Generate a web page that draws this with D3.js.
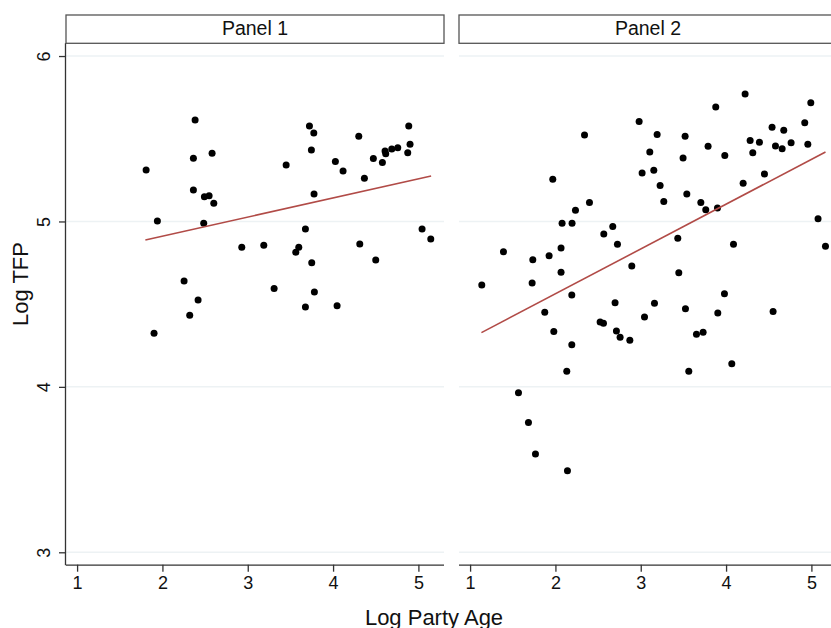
<!DOCTYPE html>
<html>
<head>
<meta charset="utf-8">
<script src="https://cdn.jsdelivr.net/npm/d3@7"></script>
<style>
  body { margin: 0; background: #fff; }
  svg { font-family: "Liberation Sans", Arial, sans-serif; }
</style>
</head>
<body>
<svg id="chart" width="831" height="628"></svg>
<script>
// Data ====================================================================
var panelNames = ["Panel 1", "Panel 2"];
var xTicks = [1, 2, 3, 4, 5];
var yTicks = [3, 4, 5, 6];

// Panel 1 : log party age, log TFP
var age1 = [1.809, 1.941, 1.902, 2.383, 2.363, 2.363, 2.582, 2.492, 2.547, 2.602,
            2.484, 2.254, 2.418, 2.320, 2.930, 3.188, 3.309, 3.450, 3.723, 3.774,
            3.746, 3.777, 3.676, 3.598, 3.563, 3.750, 3.781, 3.676, 4.047, 4.027,
            4.117, 4.301, 4.367, 4.313, 4.500, 4.472, 4.578, 4.609, 4.617, 4.688,
            4.758, 4.887, 4.902, 4.875, 5.043, 5.145];
var tfp1 = [5.311, 5.003, 4.324, 5.614, 5.382, 5.190, 5.412, 5.150, 5.156, 5.110,
            4.989, 4.640, 4.525, 4.433, 4.844, 4.856, 4.594, 5.342, 5.577, 5.535,
            5.432, 5.166, 4.955, 4.844, 4.814, 4.751, 4.574, 4.483, 4.491, 5.362,
            5.305, 5.515, 5.261, 4.864, 4.767, 5.380, 5.356, 5.426, 5.410, 5.438,
            5.446, 5.577, 5.467, 5.416, 4.955, 4.894];

// Panel 2
var age2 = [1.137, 1.391, 1.735, 1.727, 1.926, 1.969, 2.066, 2.078, 2.066, 2.192,
            2.195, 2.235, 2.341, 2.399, 2.567, 2.672, 2.727, 2.895, 2.981, 3.016,
            3.106, 3.153, 3.192, 3.227, 3.270, 3.434, 3.446, 3.496, 3.520, 3.540,
            3.704, 3.762, 3.789, 3.879, 3.899, 3.985, 4.087, 3.981, 4.200, 4.223,
            4.282, 4.313, 4.391, 4.450, 4.539, 4.579, 4.676, 4.657, 4.762, 4.922,
            4.993, 4.958, 5.078, 5.165,
            1.875, 1.981, 2.192, 2.133, 2.699, 3.161, 2.524, 2.563, 2.715, 2.758,
            2.872, 3.044, 3.524, 3.903, 3.653, 3.731, 3.563, 4.067, 4.551, 1.567,
            1.684, 1.766, 2.141];
var tfp2 = [4.616, 4.817, 4.769, 4.628, 4.793, 5.255, 4.840, 4.989, 4.693, 4.556,
            4.989, 5.068, 5.523, 5.114, 4.924, 4.969, 4.862, 4.731, 5.604, 5.293,
            5.420, 5.310, 5.525, 5.217, 5.120, 4.898, 4.690, 5.384, 5.515, 5.166,
            5.114, 5.071, 5.455, 5.692, 5.082, 5.398, 4.862, 4.563, 5.231, 5.771,
            5.489, 5.416, 5.479, 5.287, 5.570, 5.456, 5.551, 5.440, 5.476, 5.597,
            5.718, 5.467, 5.017, 4.850,
            4.451, 4.334, 4.255, 4.094, 4.509, 4.505, 4.392, 4.385, 4.338, 4.300,
            4.282, 4.423, 4.473, 4.447, 4.318, 4.330, 4.094, 4.140, 4.455, 3.965,
            3.784, 3.594, 3.493];

// Fitted lines: start and end (x, y)
var fitX1 = [1.800, 5.149];
var fitY1 = [4.888, 5.275];
var fitX2 = [1.133, 5.165];
var fitY2 = [4.328, 5.420];

// Layout ===================================================================
var svg = d3.select("#chart");
var panelLeft = [66, 459];
var panelW = 378;
var plotTop = 43.3, plotBottom = 564.7;

var xScale = d3.scaleLinear().domain([0.87, 5.30]).range([0, panelW]);
var yScale = d3.scaleLinear().domain([2.925, 6.077]).range([plotBottom, plotTop]);

var axisColor = "#333";

var panels = [
  { name: panelNames[0], x: age1, y: tfp1, fx: fitX1, fy: fitY1 },
  { name: panelNames[1], x: age2, y: tfp2, fx: fitX2, fy: fitY2 }
];

panels.forEach(function(p, i) {
  var g = svg.append("g").attr("transform", "translate(" + panelLeft[i] + ",0)");

  // gridlines
  g.selectAll("line.grid")
    .data(yTicks)
    .enter()
    .append("line")
    .attr("class", "grid")
    .attr("x1", 0).attr("x2", panelW)
    .attr("y1", function(d) { return yScale(d); })
    .attr("y2", function(d) { return yScale(d); })
    .style("stroke", "#edf2f4")
    .style("stroke-width", 1.5);

  // strip
  g.append("rect")
    .attr("x", 0).attr("y", 15)
    .attr("width", panelW).attr("height", 28.3)
    .style("fill", "#fff")
    .style("stroke", "#555")
    .style("stroke-width", 1.3);
  g.append("text")
    .attr("x", panelW / 2).attr("y", 35)
    .attr("text-anchor", "middle")
    .style("font-size", "19.5px")
    .style("fill", "#111")
    .text(p.name);

  // x axis
  var xAxis = d3.axisBottom(xScale).tickValues(xTicks).tickSize(7).tickPadding(5)
    .tickFormat(d3.format("d"));
  var xa = g.append("g")
    .attr("transform", "translate(0," + plotBottom + ")")
    .call(xAxis);
  xa.select(".domain").attr("d", "M0,0.5H" + panelW).style("stroke", axisColor).style("stroke-width", 1.3);
  xa.selectAll(".tick line").style("stroke", axisColor).style("stroke-width", 1.3);
  xa.selectAll(".tick text")
    .style("font-size", "18px")
    .style("fill", "#111")
    .style("font-family", "Liberation Sans, Arial, sans-serif");

  // y axis only on first panel
  if (i === 0) {
    var yAxis = d3.axisLeft(yScale).tickValues(yTicks).tickSize(7).tickFormat(d3.format("d"));
    var ya = g.append("g").call(yAxis);
    ya.select(".domain").attr("d", "M-0.5," + plotTop + "V" + (plotBottom + 0.5))
      .style("stroke", axisColor).style("stroke-width", 1.3);
    ya.selectAll(".tick line").style("stroke", axisColor).style("stroke-width", 1.3);
    ya.selectAll(".tick text")
      .attr("x", null).attr("dy", null)
      .attr("text-anchor", "middle")
      .attr("transform", "translate(-16,0) rotate(-90)")
      .style("font-size", "18px")
      .style("fill", "#111")
      .style("font-family", "Liberation Sans, Arial, sans-serif");
  }

  // points
  var pts = p.x.map(function(v, k) { return { x: v, y: p.y[k] }; });
  g.selectAll("circle")
    .data(pts)
    .enter()
    .append("circle")
    .attr("cx", function(d) { return xScale(d.x); })
    .attr("cy", function(d) { return yScale(d.y); })
    .attr("r", 3.5)
    .style("fill", "#000");

  // fit line
  var fit = p.fx.map(function(v, k) { return [v, p.fy[k]]; });
  g.append("path")
    .datum(fit)
    .attr("d", d3.line()
      .x(function(d) { return xScale(d[0]); })
      .y(function(d) { return yScale(d[1]); }))
    .style("fill", "none")
    .style("stroke", "#b14b47")
    .style("stroke-width", 1.6);
});

// axis titles
svg.append("text")
  .attr("x", 434).attr("y", 625)
  .attr("text-anchor", "middle")
  .style("font-size", "22px")
  .style("fill", "#111")
  .text("Log Party Age");

svg.append("text")
  .attr("transform", "translate(28,284) rotate(-90)")
  .attr("text-anchor", "middle")
  .style("font-size", "22px")
  .style("fill", "#111")
  .text("Log TFP");
</script>
</body>
</html>
